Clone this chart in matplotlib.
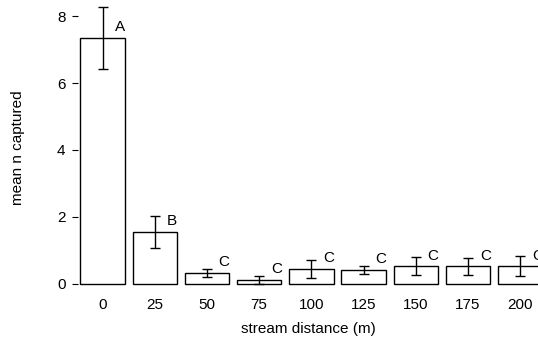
import matplotlib
matplotlib.use("Agg")
from matplotlib import pyplot as plt

distancias = ["0", "25", "50", "75", "100", "125", "150", "175", "200"]
media = [7.35, 1.55, 0.32, 0.12, 0.44, 0.42, 0.52, 0.52, 0.52]
erro = [0.92, 0.47, 0.13, 0.12, 0.28, 0.12, 0.27, 0.25, 0.30]
letras = ["A", "B", "C", "C", "C", "C", "C", "C", "C"]

plt.rcParams['font.family'] = ['Liberation Sans', 'DejaVu Sans']

fig = plt.figure(figsize=(5.38, 3.41), dpi=100)
ax = fig.add_axes([0.145, 0.15, 0.855, 0.835])

x = list(range(len(distancias)))
ax.bar(x, media, width=0.85, color='white', edgecolor='black', linewidth=1.0)
ax.errorbar(x, media, yerr=erro, fmt='none', ecolor='black', elinewidth=1.0,
            capsize=3.5, capthick=1.0)

for i in x:
    ax.text(i + 0.33, media[i] + 0.32, letras[i], ha='center', va='center', fontsize=11)

ax.set_xlim(-0.47, 8.34)
ax.set_ylim(-0.18, 8.33)
ax.set_xticks(x)
ax.set_xticklabels(distancias, fontsize=11)
ax.set_yticks([0, 2, 4, 6, 8])
ax.tick_params(axis='x', length=0, pad=6)
ax.tick_params(axis='y', length=4, width=0.8, pad=5, labelsize=11)
for s in ax.spines.values():
    s.set_visible(False)

ax.set_xlabel("stream distance (m)", fontsize=11, labelpad=7)
ax.set_ylabel("mean n captured", fontsize=11)
ax.yaxis.set_label_coords(-0.115, 0.5)

fig.savefig("out.png", dpi=100)
